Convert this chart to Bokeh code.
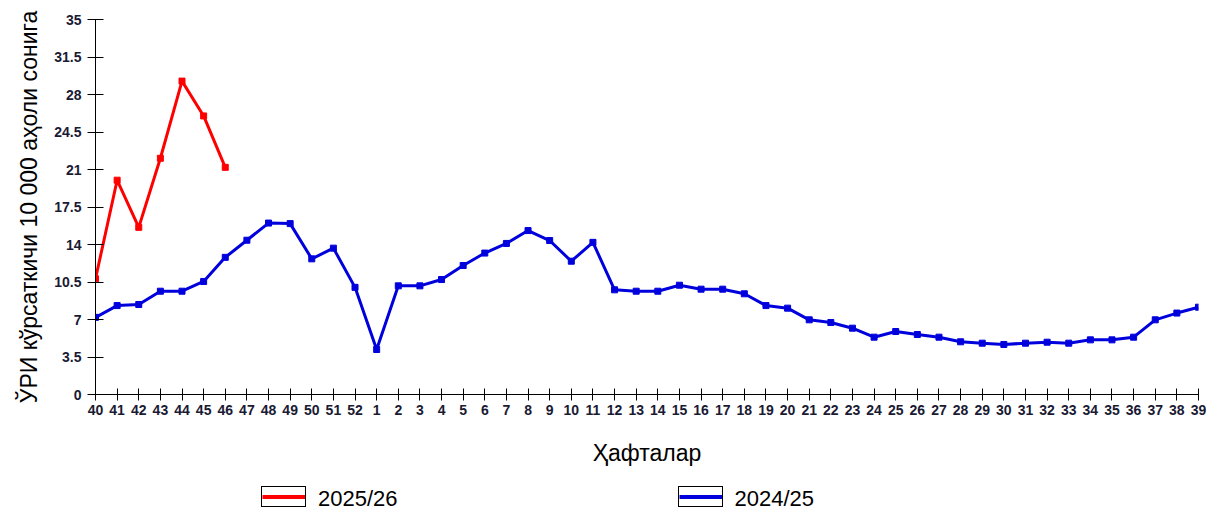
from bokeh.plotting import figure
from bokeh.layouts import column
from bokeh.models import Range1d, FixedTicker, Legend, LegendItem
from bokeh.core.properties import value
from bokeh.embed import file_html
from bokeh.resources import INLINE

weeks = ["40", "41", "42", "43", "44", "45", "46", "47", "48", "49", "50", "51", "52",
         "1", "2", "3", "4", "5", "6", "7", "8", "9", "10", "11", "12", "13", "14",
         "15", "16", "17", "18", "19", "20", "21", "22", "23", "24", "25", "26", "27",
         "28", "29", "30", "31", "32", "33", "34", "35", "36", "37", "38", "39"]

y_ticks = [0, 3.5, 7, 10.5, 14, 17.5, 21, 24.5, 28, 31.5, 35]
y_tick_labels = ["0", "3.5", "7", "10.5", "14", "17.5", "21", "24.5", "28", "31.5", "35"]

season_2025_26 = [10.8, 20.0, 15.6, 22.05, 29.25, 26.0, 21.2]

season_2024_25 = [7.2, 8.3, 8.4, 9.64, 9.64, 10.55, 12.8, 14.4, 16.0, 15.95, 12.66, 13.66, 10.0,
                  4.2, 10.14, 10.14, 10.73, 12.04, 13.2, 14.1, 15.3, 14.37, 12.44, 14.2, 9.77,
                  9.64, 9.64, 10.2, 9.83, 9.83, 9.4, 8.3, 8.06, 6.97, 6.72, 6.19, 5.35, 5.88,
                  5.6, 5.35, 4.92, 4.79, 4.67, 4.79, 4.88, 4.79, 5.1, 5.1, 5.35, 6.97, 7.6, 8.15]

label_2025_26 = "2025/26"
label_2024_25 = "2024/25"
x_title = "Ҳафталар"
y_title = "ЎРИ кўрсаткичи 10 000 аҳоли сонига"

RED = "#ff0000"
BLUE = "#0000dd"
FONT = "Liberation Sans"
TICK_COLOR = "#1a1a33"

idx_all = list(range(len(weeks)))
idx_red = list(range(len(season_2025_26)))

p = figure(width=1206, height=474, output_backend="svg", toolbar_location=None,
           x_range=Range1d(0, len(weeks) - 1), y_range=Range1d(0, 35),
           min_border_left=95, min_border_right=8, min_border_top=19, min_border_bottom=80)
p.outline_line_color = None
p.background_fill_color = "white"
p.border_fill_color = "white"
p.xgrid.visible = False
p.ygrid.visible = False

# series
p.line(idx_all, season_2024_25, line_color=BLUE, line_width=3)
p.scatter(idx_all, season_2024_25, marker="square", size=6, color=BLUE)
p.line(idx_red, season_2025_26, line_color=RED, line_width=3)
p.scatter(idx_red, season_2025_26, marker="square", size=6, color=RED)

# x axis
xa = p.xaxis[0]
xa.ticker = FixedTicker(ticks=idx_all)
xa.major_label_overrides = {i: w for i, w in enumerate(weeks)}
xa.minor_tick_line_color = None
xa.major_tick_in = 6
xa.major_tick_out = 6
xa.axis_line_color = "black"
xa.major_tick_line_color = "black"
xa.major_label_text_font = FONT
xa.major_label_text_font_style = "bold"
xa.major_label_text_font_size = "14px"
xa.major_label_text_color = TICK_COLOR
xa.major_label_standoff = 4
xa.axis_label = x_title
xa.axis_label_text_font = FONT
xa.axis_label_text_font_style = "normal"
xa.axis_label_text_font_size = "23px"
xa.axis_label_text_color = "black"
xa.axis_label_standoff = 22

# y axis
ya = p.yaxis[0]
ya.ticker = FixedTicker(ticks=y_ticks)
ya.major_label_overrides = {t: l for t, l in zip(y_ticks, y_tick_labels)}
ya.minor_tick_line_color = None
ya.major_tick_in = 8
ya.major_tick_out = 8
ya.axis_line_color = "black"
ya.major_tick_line_color = "black"
ya.major_label_text_font = FONT
ya.major_label_text_font_style = "bold"
ya.major_label_text_font_size = "14px"
ya.major_label_text_color = TICK_COLOR
ya.major_label_standoff = 6
ya.axis_label = y_title
ya.axis_label_text_font = FONT
ya.axis_label_text_font_style = "normal"
ya.axis_label_text_font_size = "23px"
ya.axis_label_text_color = "black"
ya.axis_label_standoff = 9

# legend strip (separate figure below the chart; its frame aligns with the chart frame)
lg = figure(width=1206, height=36, output_backend="svg", toolbar_location=None,
            x_range=Range1d(0, 1), y_range=Range1d(0, 1),
            min_border_left=0, min_border_right=0, min_border_top=0, min_border_bottom=0,
            x_axis_type=None, y_axis_type=None)
lg.outline_line_color = None
lg.xgrid.visible = False
lg.ygrid.visible = False

s_red = lg.line(idx_red, season_2025_26, line_color=RED, line_width=4, visible=False)
s_blue = lg.line(idx_all, season_2024_25, line_color=BLUE, line_width=4, visible=False)
t_red = lg.line(x=[], y=[], line_alpha=0)
t_blue = lg.line(x=[], y=[], line_alpha=0)

def swatch(renderer, x):
    leg = Legend(items=[LegendItem(label=value(""), renderers=[renderer])],
                 location=(x, 3), orientation="horizontal",
                 glyph_width=43, glyph_height=19, label_width=0, label_height=0,
                 label_standoff=0, padding=0, margin=0, spacing=0,
                 label_text_font_size="1px",
                 border_line_color="black", border_line_width=1, border_line_alpha=1,
                 background_fill_color="white", background_fill_alpha=1)
    lg.add_layout(leg, "center")

swatch(s_red, 166)
swatch(s_blue, 583)

text_leg = Legend(items=[LegendItem(label=value(label_2025_26), renderers=[t_red]),
                         LegendItem(label=value(label_2024_25), renderers=[t_blue])],
                  location=(166, -2), orientation="horizontal",
                  glyph_width=43, glyph_height=19, label_height=19,
                  label_standoff=14, spacing=280,
                  padding=0, margin=0,
                  label_text_font=FONT, label_text_font_size="22px", label_text_color="black",
                  border_line_alpha=0, background_fill_alpha=0)
lg.add_layout(text_leg, "center")

layout = column(p, lg, spacing=0)
open("out.html", "w").write(file_html(layout, INLINE))
